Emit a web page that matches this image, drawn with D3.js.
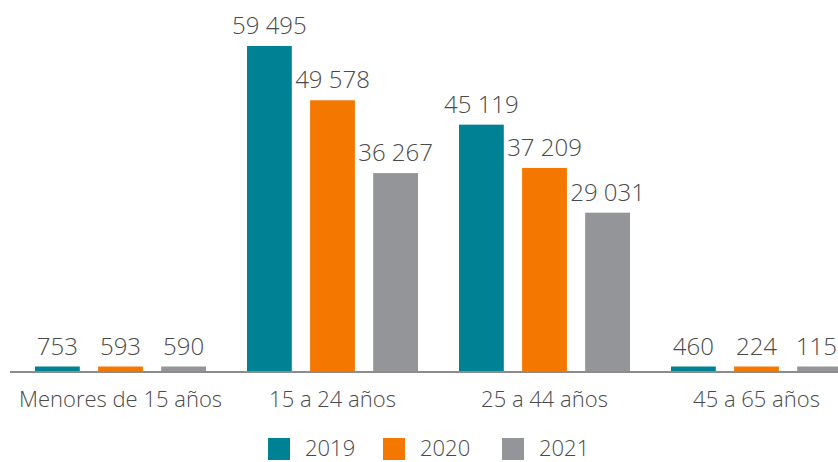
<!DOCTYPE html>
<html>
<head>
<meta charset="utf-8">
<script src="https://cdn.jsdelivr.net/npm/d3@7"></script>
<style>
  body { margin: 0; background: #fff; }
  svg text { font-family: "Open Sans", sans-serif; font-weight: 300; fill: #4a4a4a; }
</style>
</head>
<body>
<svg width="838" height="462"></svg>
<script>
const width = 838;
const height = 462;

// data
var groups = ["Menores de 15 años", "15 a 24 años", "25 a 44 años", "45 a 65 años"];
var years = ["2019", "2020", "2021"];
var v2019 = [753, 59495, 45119, 460];
var v2020 = [593, 49578, 37209, 224];
var v2021 = [590, 36267, 29031, 115];
var colors = ["#008294", "#f47800", "#939598"];

var series = [v2019, v2020, v2021];

var svg = d3.select("svg");

var x0 = d3.scaleBand()
    .domain(groups)
    .range([35, 842])
    .paddingInner(0.1934)
    .paddingOuter(0);

var x1 = d3.scaleBand()
    .domain(years)
    .range([0, x0.bandwidth()])
    .paddingInner(0.29);

var y = d3.scaleLinear()
    .domain([0, 59495])
    .range([371.5, 46]);

var minH = 5;
var topY = function (v) { return Math.min(y(v), y(0) - minH); };

var fmt = function (v) { return d3.format(",")(v).replace(/,/g, " "); };

var rows = [];
groups.forEach(function (g, i) {
    years.forEach(function (yr, j) {
        rows.push({ group: g, year: yr, value: series[j][i], color: colors[j] });
    });
});

var bars = svg.append("g");
bars.selectAll("rect")
    .data(rows)
    .enter().append("rect")
    .attr("x", function (d) { return x0(d.group) + x1(d.year); })
    .attr("width", x1.bandwidth())
    .attr("y", function (d) { return topY(d.value); })
    .attr("height", function (d) { return y(0) - topY(d.value); })
    .attr("fill", function (d) { return d.color; });

bars.selectAll("text")
    .data(rows)
    .enter().append("text")
    .attr("y", function (d) { return topY(d.value) - 12; })
    .attr("text-anchor", "middle")
    .style("font-size", "24px")
    .text(function (d) { return fmt(d.value); })
    .attr("x", function (d) {
        var cx = x0(d.group) + x1(d.year) + x1.bandwidth() / 2;
        var half = this.getComputedTextLength() / 2;
        return Math.min(cx, width - 1 - half);
    });

// baseline
svg.append("line")
    .attr("x1", 10).attr("x2", width)
    .attr("y1", y(0) + 0.5).attr("y2", y(0) + 0.5)
    .attr("stroke", "#8c8c8c")
    .attr("stroke-width", 2);

// category axis
var xAxis = svg.append("g")
    .attr("transform", "translate(0," + y(0) + ")")
    .call(d3.axisBottom(x0).tickSize(0).tickPadding(20));
xAxis.select(".domain").remove();
xAxis.selectAll("text")
    .style("font-size", "22px")
    .attr("font-family", null);

// legend
var legendX = [268, 383, 502];
var legend = svg.append("g");
years.forEach(function (yr, j) {
    var g = legend.append("g").attr("transform", "translate(" + legendX[j] + ",438)");
    g.append("rect").attr("width", 22).attr("height", 22).attr("fill", colors[j]);
    g.append("text").attr("x", 37).attr("y", 18).style("font-size", "22px").text(yr);
});
</script>
</body>
</html>
